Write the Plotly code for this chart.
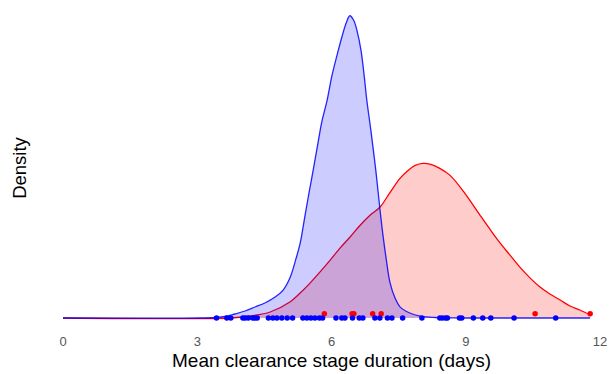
import plotly.graph_objects as go

# Density curve for group A (blue)
blue_x = [0.0, 3.06, 3.40, 3.62, 3.84, 4.07, 4.29, 4.51, 4.74, 4.92, 5.07, 5.21, 5.30, 5.41, 5.50, 5.59,
          5.70, 5.79, 5.90, 6.01, 6.15, 6.24, 6.33, 6.41, 6.50, 6.57, 6.66, 6.73, 6.79, 6.88, 6.99,
          7.08, 7.15, 7.22, 7.31, 7.42, 7.53, 7.75, 7.98, 8.31, 8.87, 11.78]
blue_y = [0.0, 0.0, 0.0013, 0.0039, 0.0104, 0.0182, 0.0286, 0.039, 0.0546, 0.0728, 0.104, 0.156, 0.195,
          0.268, 0.328, 0.385, 0.458, 0.515, 0.567, 0.632, 0.697, 0.736, 0.770, 0.788, 0.775, 0.749,
          0.697, 0.632, 0.567, 0.489, 0.385, 0.286, 0.216, 0.156, 0.091, 0.052, 0.029, 0.013, 0.005,
          0.0013, 0.0, 0.0]

# Density curve for group B (red)
red_x = [0.0, 3.73, 4.18, 4.63, 5.07, 5.30, 5.52, 5.74, 5.97, 6.19, 6.41, 6.64, 6.86, 7.08, 7.31, 7.53,
         7.71, 7.87, 8.04, 8.22, 8.42, 8.65, 8.98, 9.32, 9.54, 9.77, 9.99, 10.21, 10.44, 10.66, 10.88,
         11.11, 11.33, 11.55, 11.78]
red_y = [0.0, 0.0, 0.0052, 0.0156, 0.0416, 0.065, 0.091, 0.1196, 0.1508, 0.182, 0.2106, 0.2418, 0.2678,
         0.2886, 0.3276, 0.364, 0.3848, 0.3978, 0.403, 0.4004, 0.390, 0.3718, 0.325, 0.2678, 0.2314,
         0.195, 0.1638, 0.1326, 0.104, 0.0806, 0.0624, 0.0468, 0.0312, 0.0208, 0.0078]

# Observations (rug points)
blue_pts = [3.43, 3.66, 3.75, 4.02, 4.07, 4.14, 4.24, 4.29, 4.34, 4.59, 4.69, 4.78, 4.89, 5.01, 5.13,
            5.36, 5.45, 5.54, 5.63, 5.73, 5.80, 6.10, 6.23, 6.30, 6.47, 6.62, 6.70, 6.97, 7.08, 7.25,
            7.35, 7.59, 8.02, 8.42, 8.48, 8.55, 8.59, 8.86, 8.91, 9.17, 9.38, 9.56, 10.08, 11.01]
red_pts = [5.84, 6.46, 6.50, 6.92, 7.11, 10.55, 11.78]

x_ticks = [0, 3, 6, 9, 12]

fig = go.Figure()
fig.add_trace(go.Scatter(x=red_x, y=red_y, mode="lines", fill="tozeroy",
                         line=dict(color="#FF0000", width=1.3, shape="spline", smoothing=1.0),
                         fillcolor="rgba(255,0,0,0.2)", hoverinfo="skip"))
fig.add_trace(go.Scatter(x=blue_x, y=blue_y, mode="lines", fill="tozeroy",
                         line=dict(color="rgba(0,0,255,0.85)", width=1.3, shape="spline", smoothing=1.0),
                         fillcolor="rgba(0,0,255,0.2)", hoverinfo="skip"))
fig.add_trace(go.Scatter(x=red_pts, y=[0.011] * len(red_pts), mode="markers",
                         marker=dict(color="#FF0000", size=5.5), cliponaxis=False))
fig.add_trace(go.Scatter(x=blue_pts, y=[0.0] * len(blue_pts), mode="markers",
                         marker=dict(color="#0000FF", size=5.5), cliponaxis=False))

fig.update_layout(
    width=609, height=374,
    margin=dict(l=63, r=9, t=10, b=48),
    plot_bgcolor="white", paper_bgcolor="white",
    showlegend=False,
    font=dict(family="Liberation Sans, Arial, sans-serif"),
)
fig.update_xaxes(range=[0, 12], tickvals=x_ticks, ticktext=[str(t) for t in x_ticks],
                 showgrid=False, zeroline=False, showline=False, ticks="", automargin=False,
                 ticklabelstandoff=6,
                 tickfont=dict(size=13, color="#555555"),
                 title=dict(text="Mean clearance stage duration (days)", font=dict(size=19, color="black"), standoff=5))
fig.update_yaxes(range=[-0.0209, 0.803], showticklabels=False, showgrid=False, zeroline=False,
                 showline=False, ticks="", automargin=False,
                 title=dict(text="Density", font=dict(size=18.5, color="black"), standoff=30))

fig.write_html("out.html")
